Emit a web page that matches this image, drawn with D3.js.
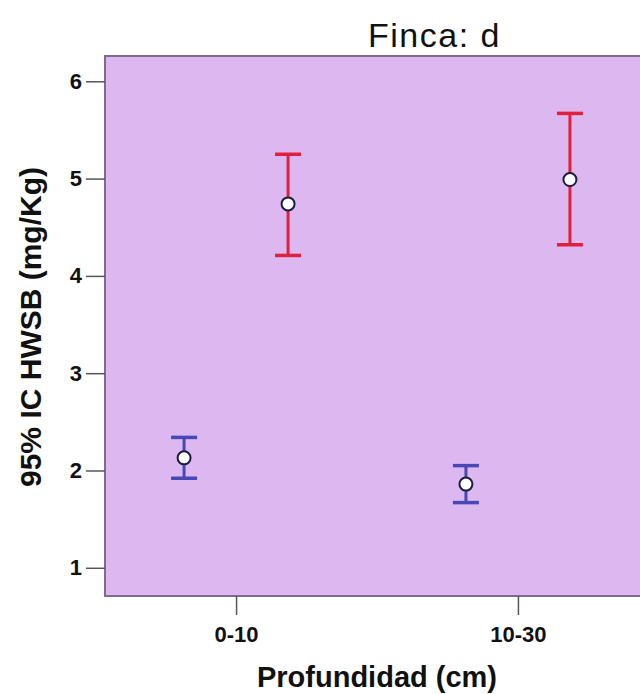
<!DOCTYPE html>
<html>
<head>
<meta charset="utf-8">
<script src="https://cdn.jsdelivr.net/npm/d3@7"></script>
<style>
  body { margin: 0; background: white; }
  svg { display: block; }
</style>
</head>
<body>
<svg id="chart" width="640" height="694"></svg>
<script>
const categories = ["0-10", "10-30"];
const seriesNames = ["blue", "red"];
const yTicks = [1, 2, 3, 4, 5, 6];

// means and 95% CI bounds
const blueMean = [2.13, 1.86];
const blueLow = [1.92, 1.67];
const blueHigh = [2.34, 2.05];
const redMean = [4.74, 4.99];
const redLow = [4.21, 4.32];
const redHigh = [5.25, 5.67];

const svg = d3.select("#chart");
const font = "Arial, 'Liberation Sans', sans-serif";

const plotLeft = 105, plotTop = 56, plotBottom = 596, plotRight = 649;

const x = d3.scalePoint()
    .domain(categories)
    .range([plotLeft, plotRight])
    .padding(0.465);

const xOff = d3.scalePoint()
    .domain(seriesNames)
    .range([-52, 52]);

const y = d3.scaleLinear()
    .domain([0.71, 6.26])
    .range([plotBottom, plotTop]);

const colors = { blue: "#4848b4", red: "#e0203e" };

// plot background
svg.append("rect")
    .attr("x", plotLeft)
    .attr("y", plotTop)
    .attr("width", plotRight - plotLeft)
    .attr("height", plotBottom - plotTop)
    .attr("fill", "#dcb7f0")
    .attr("stroke", "#7d6c8e")
    .attr("stroke-width", 2);

// y axis
const yAxis = svg.append("g")
    .attr("transform", `translate(${plotLeft},0)`)
    .call(d3.axisLeft(y).tickValues(yTicks).tickSize(19).tickPadding(4).tickFormat(d3.format("d")));
yAxis.select(".domain").remove();
yAxis.selectAll(".tick line").attr("stroke", "#555").attr("stroke-width", 1.5);
yAxis.selectAll(".tick text")
    .attr("fill", "#111")
    .style("font-family", font)
    .style("font-size", "22px")
    .style("font-weight", "bold");

// x axis
const xAxis = svg.append("g")
    .attr("transform", `translate(0,${plotBottom})`)
    .call(d3.axisBottom(x).tickSize(19).tickPadding(11));
xAxis.select(".domain").remove();
xAxis.selectAll(".tick line").attr("stroke", "#555").attr("stroke-width", 1.5);
xAxis.selectAll(".tick text")
    .attr("fill", "#111")
    .style("font-family", font)
    .style("font-size", "22px")
    .style("font-weight", "bold");

// error bars
const series = [
    { name: "blue", mean: blueMean, low: blueLow, high: blueHigh },
    { name: "red", mean: redMean, low: redLow, high: redHigh }
];

const capHalf = 13;

series.forEach(s => {
    const g = svg.append("g").attr("class", "series-" + s.name);
    categories.forEach((c, i) => {
        const cx = x(c) + xOff(s.name);
        const col = colors[s.name];
        g.append("line")
            .attr("x1", cx).attr("x2", cx)
            .attr("y1", y(s.low[i])).attr("y2", y(s.high[i]))
            .attr("stroke", col).attr("stroke-width", 3);
        [s.low[i], s.high[i]].forEach(v => {
            g.append("line")
                .attr("x1", cx - capHalf).attr("x2", cx + capHalf)
                .attr("y1", y(v)).attr("y2", y(v))
                .attr("stroke", col).attr("stroke-width", 3.5);
        });
        g.append("circle")
            .attr("cx", cx)
            .attr("cy", y(s.mean[i]))
            .attr("r", 6.5)
            .attr("fill", "white")
            .attr("stroke", "#1c1c40")
            .attr("stroke-width", 2);
    });
});

// title
svg.append("text")
    .attr("x", 368)
    .attr("y", 47)
    .attr("fill", "#111")
    .style("font-family", font)
    .style("font-size", "34px")
    .style("letter-spacing", "1.5px")
    .text("Finca: d");

// axis titles
svg.append("text")
    .attr("x", 377)
    .attr("y", 687)
    .attr("text-anchor", "middle")
    .attr("fill", "#111")
    .style("font-family", font)
    .style("font-size", "29px")
    .style("font-weight", "bold")
    .text("Profundidad (cm)");

svg.append("text")
    .attr("transform", "translate(41,327) rotate(-90)")
    .attr("text-anchor", "middle")
    .attr("fill", "#111")
    .style("font-family", font)
    .style("font-size", "30px")
    .style("font-weight", "bold")
    .text("95% IC HWSB (mg/Kg)");
</script>
</body>
</html>
